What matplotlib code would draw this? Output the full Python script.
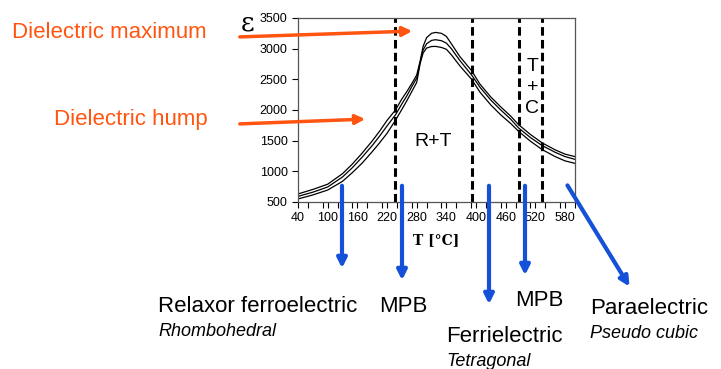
import matplotlib
matplotlib.use('Agg')
import matplotlib.pyplot as plt
from matplotlib.ticker import MultipleLocator

plt.rcParams['font.family'] = ['Liberation Sans', 'DejaVu Sans']

# temperatura i trzy krzywe przenikalnosci
temp = [40, 70, 100, 130, 150, 170, 190, 205, 220, 237, 250, 260, 270, 280, 287, 293, 300,
        310, 318, 330, 340, 350, 367, 391, 408, 430, 450, 470, 486, 510, 534, 560, 580, 600]
eps_top = [631, 705, 790, 962, 1120, 1300, 1495, 1655, 1830, 2000, 2180, 2300, 2430, 2570,
           2800, 3040, 3180, 3250, 3265, 3250, 3200, 3080, 2874, 2640, 2420, 2210, 2050,
           1900, 1761, 1600, 1462, 1350, 1280, 1240]
eps_mid = [592, 660, 745, 908, 1060, 1234, 1420, 1575, 1740, 1920, 2100, 2230, 2380, 2520,
           2780, 2980, 3080, 3135, 3146, 3130, 3090, 3000, 2809, 2570, 2370, 2160, 2000,
           1850, 1707, 1550, 1418, 1310, 1240, 1195]
eps_bot = [550, 615, 695, 837, 980, 1137, 1320, 1465, 1620, 1831, 2010, 2150, 2300, 2450,
           2760, 2930, 3010, 3035, 3037, 3020, 2990, 2900, 2722, 2500, 2290, 2080, 1920,
           1780, 1652, 1490, 1353, 1240, 1170, 1130]
granice = [237, 391, 486, 533]  # granice faz (linie przerywane)
xticks = list(range(40, 600, 60))
yticks = list(range(500, 4000, 500))

W, H = 721, 369
def px(x, y):
    return (x / W, 1 - y / H)

fig = plt.figure(figsize=(7.21, 3.69), dpi=100)
ax = fig.add_axes([298 / W, 1 - 202 / H, (575 - 298) / W, (202 - 18) / H])

for e in (eps_top, eps_mid, eps_bot):
    ax.plot(temp, e, color='black', lw=0.9)
for g in granice:
    ax.axvline(g, color='black', lw=2.2, dashes=(2.8, 1.4))

ax.set_xlim(40, 600)
ax.set_ylim(500, 3500)
ax.set_xticks(xticks)
ax.xaxis.set_minor_locator(MultipleLocator(30))
ax.set_yticks(yticks)
ax.tick_params(labelsize=9, length=4, width=0.8, direction='out')
ax.tick_params(which='minor', length=4, width=0.8)
for s in ax.spines.values():
    s.set_color('#555555')
    s.set_linewidth(0.9)
ax.set_xlabel('T [°C]', family='DejaVu Serif', fontweight='bold', fontsize=10, labelpad=6)

ax.text(313, 1490, 'R+T', fontsize=14, ha='center', va='center')
ax.text(514, 2370, 'T\n+\nC', fontsize=14, ha='center', va='center', linespacing=1.3)

fig.text(*px(241, 23), 'ε', family='DejaVu Serif', fontsize=19, ha='left', va='center')

orange = '#FF5511'
fig.text(*px(12, 33), 'Dielectric maximum', color=orange, fontsize=16, ha='left', va='center')
fig.text(*px(208, 120), 'Dielectric hump', color=orange, fontsize=16, ha='right', va='center')
for (x0, y0), (x1, y1) in [((237, 37), (415, 31)), ((237, 124), (368, 119))]:
    fig.add_artist(matplotlib.patches.FancyArrowPatch(
        px(x0, y0), px(x1, y1), transform=fig.transFigure, arrowstyle='-|>',
        mutation_scale=14, lw=2.5, color=orange))

blue = '#1450D8'
for (x0, y0), (x1, y1) in [((342, 183), (342, 271)), ((402, 183), (402, 283)),
                           ((489, 183), (489, 307)), ((525, 183), (525, 278)),
                           ((566, 183), (631, 289))]:
    fig.add_artist(matplotlib.patches.FancyArrowPatch(
        px(x0, y0), px(x1, y1), transform=fig.transFigure, arrowstyle='-|>',
        mutation_scale=14, lw=3, color=blue))

fig.text(*px(158, 307), 'Relaxor ferroelectric', fontsize=16, va='center')
fig.text(*px(158, 331), 'Rhombohedral', fontsize=13, style='italic', va='center')
fig.text(*px(379, 307), 'MPB', fontsize=16, va='center')
fig.text(*px(446, 337), 'Ferrielectric', fontsize=16, va='center')
fig.text(*px(446, 361), 'Tetragonal', fontsize=13, style='italic', va='center')
fig.text(*px(515, 300), 'MPB', fontsize=16, va='center')
fig.text(*px(590, 308), 'Paraelectric', fontsize=16, va='center')
fig.text(*px(590, 333), 'Pseudo cubic', fontsize=13, style='italic', va='center')

fig.savefig('out.png', dpi=100)
